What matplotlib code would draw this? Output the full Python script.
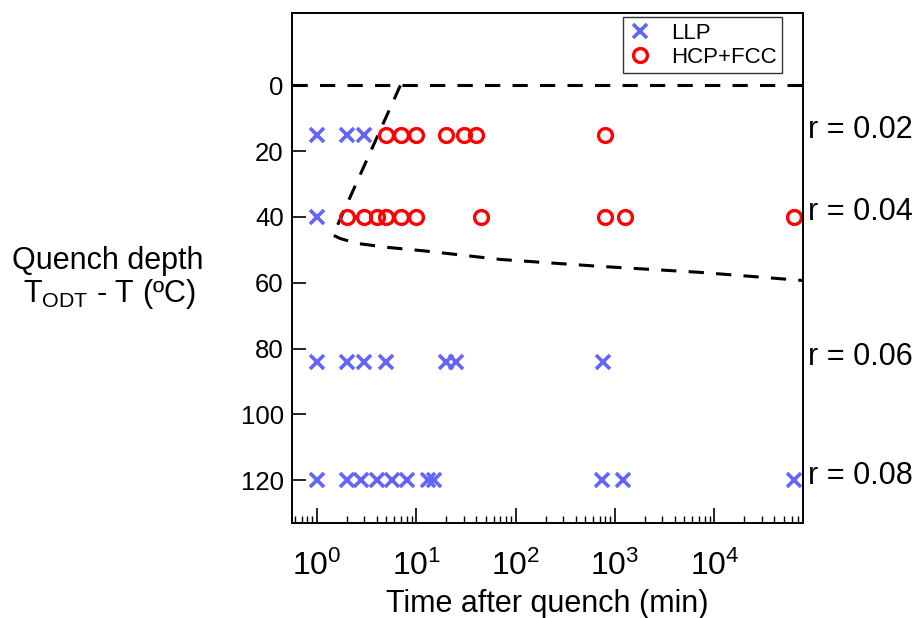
import matplotlib
matplotlib.use('Agg')
import matplotlib.pyplot as plt
from matplotlib.ticker import LogLocator, LogFormatterMathtext, NullFormatter
import matplotlib.transforms as mtransforms

plt.rcParams['font.family'] = ['Liberation Sans', 'DejaVu Sans']
plt.rcParams['mathtext.fontset'] = 'custom'
plt.rcParams['mathtext.rm'] = 'Liberation Sans'
plt.rcParams['mathtext.it'] = 'Liberation Sans:italic'
plt.rcParams['mathtext.bf'] = 'Liberation Sans:bold'

# 数据：时间 (min) 与淬火深度 (ºC)
llp_t = [1, 2, 3,
         1,
         1, 2, 3, 5, 20, 25, 750,
         1, 2, 2.8, 4, 5.7, 8, 13, 15, 740, 1200, 63000]
llp_y = [15, 15, 15,
         40,
         84, 84, 84, 84, 84, 84, 84,
         120, 120, 120, 120, 120, 120, 120, 120, 120, 120, 120]

hcp_t = [5, 7, 10, 20, 30, 40, 800,
         2, 3, 4, 5, 7, 10, 45, 800, 1250, 63000]
hcp_y = [15, 15, 15, 15, 15, 15, 15,
         40, 40, 40, 40, 40, 40, 40, 40, 40, 40]

# 边界虚线
bound_t = [6.9, 1.45, 1.7, 2.5, 5, 12, 70, 700, 7000, 78000]
bound_y = [0, 45.5, 46.5, 48, 49.2, 50.3, 52.9, 55, 56.8, 59.3]

r_labels = ['r = 0.02', 'r = 0.04', 'r = 0.06', 'r = 0.08']
r_rows = [15, 40, 84, 120]

yticks = [0, 20, 40, 60, 80, 100, 120]

fig = plt.figure(figsize=(9.2, 6.18), dpi=100)
ax = fig.add_axes([292/920, 1 - 523/618, 511/920, 510/618])

ax.axhline(0, color='black', lw=2.2, dashes=(5, 4))
ax.plot(bound_t, bound_y, color='black', lw=2.2, dashes=(5, 4))

ax.plot(llp_t, llp_y, ls='none', marker='x', ms=10.5, mew=2.6,
        color='#6464FF', label='LLP', clip_on=False)
ax.plot(hcp_t, hcp_y, ls='none', marker='o', ms=10, mew=2.4,
        mfc='none', mec='#FF0000', label='HCP+FCC', clip_on=False)

ax.set_xscale('log')
ax.set_xlim(0.56, 78000)
ax.set_ylim(133, -22)
ax.set_yticks(yticks)

ax.xaxis.set_major_locator(LogLocator(base=10, numticks=10))
ax.xaxis.set_major_formatter(LogFormatterMathtext())
ax.xaxis.set_minor_locator(LogLocator(base=10, subs=range(2, 10), numticks=20))
ax.xaxis.set_minor_formatter(NullFormatter())

ax.tick_params(axis='x', which='major', direction='in', length=11, width=1.2,
               labelsize=23, pad=20, top=False)
ax.tick_params(axis='x', which='minor', direction='in', length=5, width=1.0, top=False)
ax.tick_params(axis='y', which='major', direction='in', length=10, width=1.2,
               labelsize=18.5, pad=6, right=False)
ax.tick_params(axis='y', which='minor', left=False, right=False)

for s in ax.spines.values():
    s.set_linewidth(1.4)

ax.set_xlabel('Time after quench (min)', fontsize=22, labelpad=5)

# 右侧 r 标注
trans = mtransforms.blended_transform_factory(ax.transAxes, ax.transData)
for lab, yy in zip(r_labels, r_rows):
    ax.text(1.01, yy + 1, lab, transform=trans, fontsize=22,
            ha='left', va='baseline')

fig.text(108/920, 1 - 269/618, 'Quench depth', fontsize=22, ha='center', va='baseline')
fig.text(109/920, 1 - 302/618, r'T$_{\mathrm{ODT}}$ - T (ºC)', fontsize=22,
         ha='center', va='baseline')

leg = ax.legend(loc='upper right', bbox_to_anchor=((782 - 292)/511, (523 - 17)/510),
                borderaxespad=0, numpoints=1, handlelength=1.0, handletextpad=0.9,
                fontsize=16, frameon=True, fancybox=False, borderpad=0.25,
                labelspacing=0.15)
leg.get_frame().set_edgecolor('black')
leg.get_frame().set_linewidth(1.0)

fig.savefig('out.png', dpi=100)
